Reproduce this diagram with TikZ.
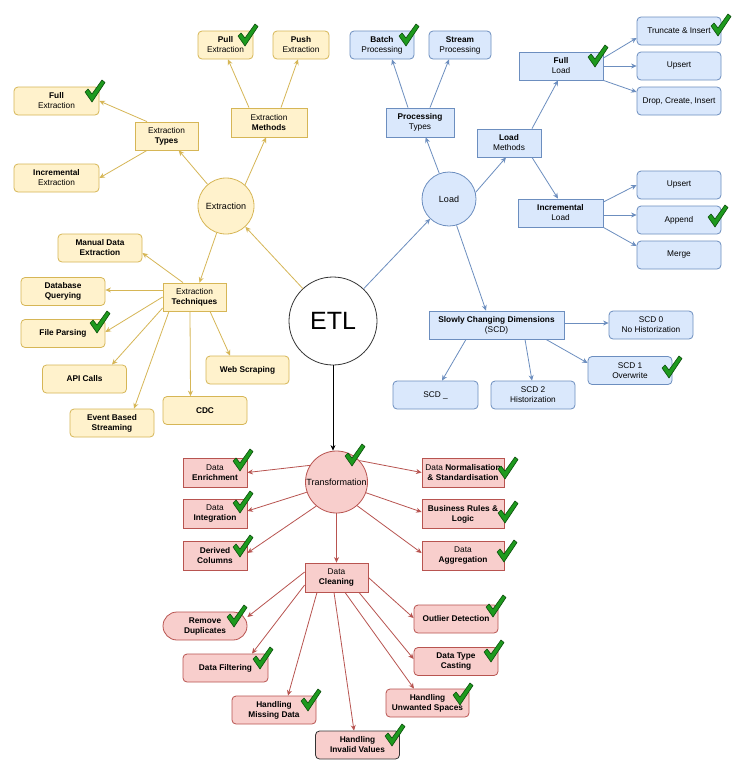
\documentclass[tikz,border=0pt]{standalone}
\usepackage{fontspec}
\setmainfont{Liberation Sans}
\usetikzlibrary{arrows.meta,calc}
\definecolor{yfill}{HTML}{FFF2CC}
\definecolor{yline}{HTML}{D6B656}
\definecolor{bfill}{HTML}{DAE8FC}
\definecolor{bline}{HTML}{6C8EBF}
\definecolor{rfill}{HTML}{F8CECC}
\definecolor{rline}{HTML}{B85450}
\definecolor{chkfill}{HTML}{1E9A1E}
\definecolor{chkline}{HTML}{0C4F0C}
\begin{document}
\begin{tikzpicture}[x=1pt,y=-1pt,
  every node/.style={font=\fontsize{8.3}{10}\selectfont, align=center, inner sep=1pt, line width=0.8pt},
  yleaf/.style={draw=yline, fill=yfill, rounded corners=4pt, minimum width=84pt, minimum height=28pt},
  ymid/.style={draw=yline, fill=yfill, minimum width=63pt, minimum height=28pt},
  ycirc/.style={circle, draw=yline, fill=yfill, minimum size=56pt, inner sep=0pt, font=\fontsize{9}{11}\selectfont},
  bleaf/.style={draw=bline, fill=bfill, rounded corners=4pt, minimum width=84pt, minimum height=28pt},
  bmid/.style={draw=bline, fill=bfill, minimum width=63pt, minimum height=28pt},
  bcirc/.style={circle, draw=bline, fill=bfill, minimum size=54pt, inner sep=0pt, font=\fontsize{9}{11}\selectfont},
  rleaf/.style={draw=rline, fill=rfill, rounded corners=4pt, minimum width=84pt, minimum height=28pt},
  rmid/.style={draw=rline, fill=rfill, minimum width=64pt, minimum height=29pt},
  rcirc/.style={circle, draw=rline, fill=rfill, minimum size=62pt, inner sep=0pt, font=\fontsize{9}{11}\selectfont},
  etlc/.style={circle, draw=black!80, fill=white, minimum size=88pt, inner sep=0pt, font=\fontsize{25}{28}\selectfont},
  tip/.style={-{Stealth[length=5.5pt,width=5pt]}},
  yedge/.style={tip, draw=yline, line width=0.8pt},
  bedge/.style={tip, draw=bline, line width=0.8pt},
  redge/.style={tip, draw=rline, line width=0.8pt},
  kedge/.style={tip, draw=black, line width=0.8pt},
  chk/.pic={\filldraw[fill=chkfill, draw=chkline, line width=0.6pt, line join=round]
    (-10,1) -- (-7,-2) -- (-3,3) -- (7,-11) -- (10,-8.5) -- (-3,11) -- cycle;}
]
\fill[white] (0,0) rectangle (746,774);
\useasboundingbox (0,0) rectangle (746,774);

% ---------- centre ----------
\node[etlc] (etl) at (333,321) {ETL};

% ---------- extraction ----------
\node[ycirc] (extr) at (226,206) {Extraction};
\node[ymid] (etypes) at (166.5,136) {Extraction\\\textbf{Types}};
\node[ymid, minimum width=76pt, minimum height=29pt] (emeth) at (269,122.5) {Extraction\\\textbf{Methods}};
\node[yleaf, minimum width=55pt] (pull) at (225.5,45) {\textbf{Pull}\\Extraction};
\node[yleaf, minimum width=56pt] (push) at (301,45) {\textbf{Push}\\Extraction};
\node[yleaf, minimum width=85pt] (efull) at (56.5,101) {\textbf{Full}\\Extraction};
\node[yleaf, minimum width=85pt] (eincr) at (56.5,178) {\textbf{Incremental}\\Extraction};
\node[ymid] (etech) at (194.5,297) {Extraction\\\textbf{Techniques}};
\node[yleaf] (manual) at (100,248) {\textbf{Manual Data}\\\textbf{Extraction}};
\node[yleaf] (dbq) at (63,291.5) {\textbf{Database}\\\textbf{Querying}};
\node[yleaf] (file) at (63,333.5) {\textbf{File Parsing}};
\node[yleaf] (api) at (84.5,379) {\textbf{API Calls}};
\node[yleaf] (event) at (112,423) {\textbf{Event Based}\\\textbf{Streaming}};
\node[yleaf] (cdc) at (205,410.5) {\textbf{CDC}};
\node[yleaf, minimum width=83pt] (web) at (247.5,370) {\textbf{Web Scraping}};

\draw[yedge] (etl) -- (extr);
\draw[yedge] (extr) -- (etypes);
\draw[yedge] (extr.48) -- ($(emeth.south)+(-3,0)$);
\draw[yedge] ($(etypes.north)+(-19.5,0)$) -- (efull.east);
\draw[yedge] ($(etypes.south)+(-19.5,0)$) -- (eincr.east);
\draw[yedge] ($(emeth.north)+(-20,0)$) -- ($(pull.south)+(2.5,0)$);
\draw[yedge] ($(emeth.north)+(12,0)$) -- ($(push.south)+(-3,0)$);
\draw[yedge] (extr) -- (etech);
\draw[yedge] ($(etech.north)+(-11.5,0)$) -- ($(manual.east)+(0,5)$);
\draw[yedge] ($(etech.west)+(0,-7)$) -- ($(dbq.east)+(0,-1.5)$);
\draw[yedge] (etech.west) -- ($(file.east)+(0,-1.5)$);
\draw[yedge] ($(etech.west)+(0,11)$) -- ($(api.north)+(27.5,0)$);
\draw[yedge] ($(etech.south)+(-25.5,0)$) -- ($(event.north)+(22,0)$);
\draw[yedge] ($(etech.south)+(-4.5,0)$) -- ($(cdc.north)+(-14.5,0)$);
\draw[yedge] ($(etech.south)+(15.5,0)$) -- ($(web.north)+(-17.5,0)$);

% ---------- load ----------
\node[bcirc] (load) at (449,199) {Load};
\node[bmid, minimum width=68pt, minimum height=29pt] (ptypes) at (420,122.5) {\textbf{Processing}\\Types};
\node[bleaf, minimum width=64pt] (batch) at (382,45) {\textbf{Batch}\\Processing};
\node[bleaf, minimum width=62pt] (stream) at (460,45) {\textbf{Stream}\\Processing};
\node[bmid, minimum width=64pt] (lmeth) at (509,143) {\textbf{Load}\\Methods};
\node[bmid, minimum width=84pt] (lfull) at (561,66) {\textbf{Full}\\Load};
\node[bmid, minimum width=85pt] (lincr) at (560.5,213) {\textbf{Incremental}\\Load};
\node[bleaf] (trunc) at (679,31) {Truncate \& Insert};
\node[bleaf] (ups1) at (679,66) {Upsert};
\node[bleaf] (drop) at (679,101) {Drop, Create, Insert};
\node[bleaf] (ups2) at (679,185) {Upsert};
\node[bleaf] (append) at (679,220) {Append};
\node[bleaf] (merge) at (679,255) {Merge};
\node[bmid, minimum width=135pt] (scd) at (496.5,325) {\textbf{Slowly Changing Dimensions}\\(SCD)};
\node[bleaf] (scd0) at (651,325) {SCD 0\\No Historization};
\node[bleaf] (scd1) at (630,370.5) {SCD 1\\Overwrite};
\node[bleaf, minimum width=85pt] (scdx) at (435.5,395) {SCD \_};
\node[bleaf] (scd2) at (533,395) {SCD 2\\Historization};

\draw[bedge] (etl) -- (load);
\draw[bedge] (load) -- (ptypes);
\draw[bedge] ($(ptypes.north)+(-12,0)$) -- ($(batch.south)+(10,0)$);
\draw[bedge] ($(ptypes.north)+(10,0)$) -- ($(stream.south)+(-11,0)$);
\draw[bedge] (load.14) -- ($(lmeth.south)+(-3,0)$);
\draw[bedge] ($(lmeth.north)+(23,0)$) -- ($(lfull.south)+(-3,0)$);
\draw[bedge] ($(lmeth.south)+(23,0)$) -- ($(lincr.north)+(-2.5,0)$);
\draw[bedge] ($(lfull.east)+(0,-8)$) -- ($(trunc.west)+(0,7)$);
\draw[bedge] (lfull.east) -- (ups1.west);
\draw[bedge] (lfull.south east) -- ($(drop.west)+(0,-9)$);
\draw[bedge] ($(lincr.east)+(0,-11)$) -- (ups2.west);
\draw[bedge] ($(lincr.east)+(0,2)$) -- ($(append.west)+(0,-5)$);
\draw[bedge] (lincr.south east) -- ($(merge.west)+(0,-9)$);
\draw[bedge] (load.-74) -- ($(scd.north)+(-10.5,0)$);
\draw[bedge] ($(scd.east)+(0,-2)$) -- ($(scd0.west)+(0,-2)$);
\draw[bedge] ($(scd.south)+(49.5,0)$) -- ($(scd1.west)+(0,-7.5)$);
\draw[bedge] ($(scd.south)+(28.5,0)$) -- ($(scd2.north)+(-1,0)$);
\draw[bedge] ($(scd.south)+(-30.5,0)$) -- ($(scdx.north)+(6.5,0)$);

% ---------- transformation ----------
\node[rcirc] (trans) at (336.5,482) {Transformation};
\node[rmid] (enrich) at (215,472.5) {Data\\\textbf{Enrichment}};
\node[rmid] (integ) at (215,514) {Data\\\textbf{Integration}};
\node[rmid] (derived) at (215,556) {\textbf{Derived}\\\textbf{Columns}};
\node[rmid, minimum width=82pt] (norm) at (463,472.5) {Data \textbf{Normalisation}\\\textbf{\& Standardisation}};
\node[rmid, minimum width=82pt] (busi) at (463,514) {\textbf{Business Rules \&}\\\textbf{Logic}};
\node[rmid, minimum width=82pt] (aggr) at (463,556) {Data\\\textbf{Aggregation}};
\node[rmid, minimum width=63pt] (clean) at (336.5,577.5) {Data\\\textbf{Cleaning}};
\node[rleaf, rounded corners=14pt] (dup) at (205,626) {\textbf{Remove}\\\textbf{Duplicates}};
\node[rleaf, minimum width=85pt] (filter) at (225.5,668) {\textbf{Data Filtering}};
\node[rleaf] (missing) at (274,710) {\textbf{Handling}\\\textbf{Missing Data}};
\node[rleaf, draw=black!80] (invalid) at (357.5,745) {\textbf{Handling}\\\textbf{Invalid Values}};
\node[rleaf] (outlier) at (456,619) {\textbf{Outlier Detection}};
\node[rleaf] (casting) at (456,661.5) {\textbf{Data Type}\\\textbf{Casting}};
\node[rleaf, minimum width=83pt] (unwanted) at (427.5,703) {\textbf{Handling}\\\textbf{Unwanted Spaces}};

\draw[kedge] (etl.south) -- (etl.south |- trans.north);
\draw[redge] (trans.148) -- (enrich.east);
\draw[redge] (trans.199) -- ($(integ.east)+(0,-3)$);
\draw[redge] (trans.230) -- ($(derived.east)+(0,-3)$);
\draw[redge] (trans.43) -- (norm.west);
\draw[redge] (trans.340) -- ($(busi.west)+(0,-2)$);
\draw[redge] (trans.311) -- ($(aggr.west)+(0,-3)$);
\draw[redge] (trans) -- (clean);
\draw[redge] ($(clean.west)+(0,-5.5)$) -- ($(dup.east)+(0,-9)$);
\draw[redge] ($(clean.west)+(0,7.5)$) -- ($(filter.north)+(26.5,0)$);
\draw[redge] ($(clean.south)+(-19.5,0)$) -- ($(missing.north)+(14,0)$);
\draw[redge] ($(clean.south)+(-2.5,0)$) -- ($(invalid.north)+(-3.5,0)$);
\draw[redge] ($(clean.south)+(8.5,0)$) -- ($(unwanted.north)+(-13.5,0)$);
\draw[redge] ($(clean.south)+(22.5,0)$) -- ($(casting.west)+(0,-2.5)$);
\draw[redge] (clean.east) -- ($(outlier.west)+(0,-1)$);

% ---------- check marks ----------
\foreach \p in {(95,91),(248,35),(100,322),(409,35),(721,25),(598,56),(718,216),(672,367),
  (355,455),(243,460),(243,502),(243,546),(508,468),(508,512),(507,551),
  (237,616),(263,658),(311,700),(395,735),(496,606),(494,651),(463,694)}
  \pic at \p {chk};
\end{tikzpicture}
\end{document}
